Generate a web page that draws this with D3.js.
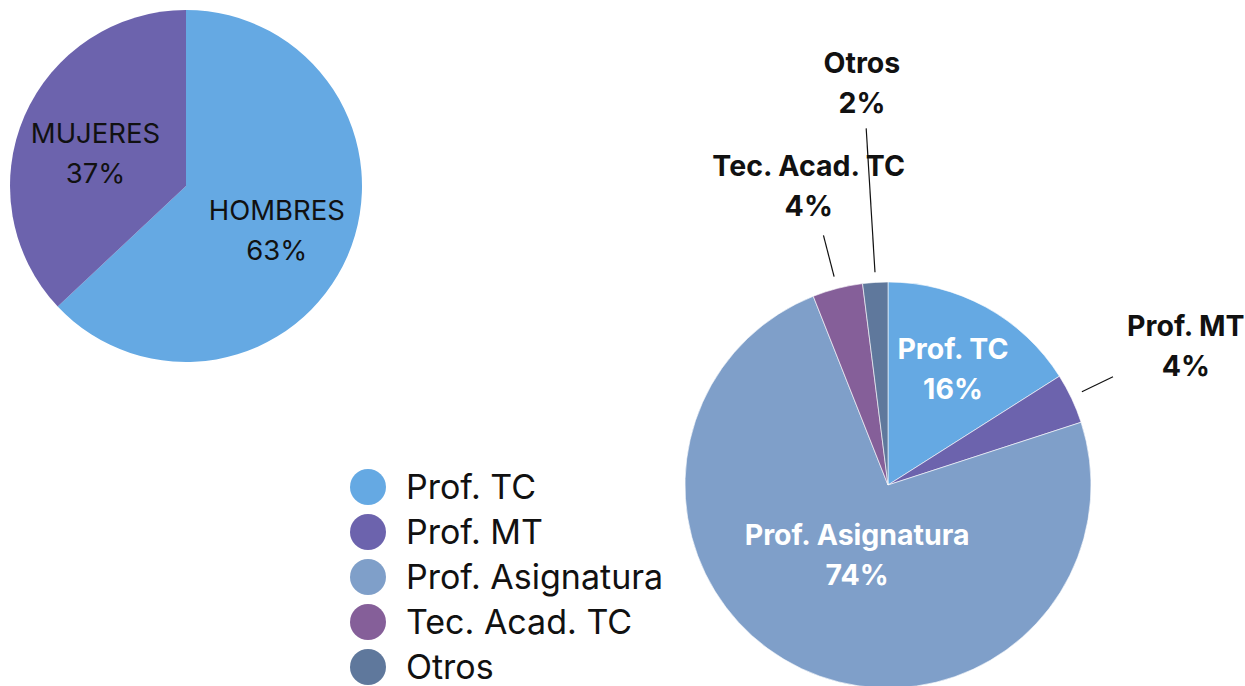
<!DOCTYPE html>
<meta charset="utf-8">
<head>
	<title>Pies</title>
</head>
<style>
	body { margin: 0; background: #fff; }
	text { font-family: Inter, "Noto Sans", sans-serif; }
</style>
<body>
	<svg width="1245" height="686"></svg>

	<script src="https://d3js.org/d3.v7.min.js"></script>
	<script>
// sexo
var genderCats = ['HOMBRES', 'MUJERES'];
var genderVals = [63, 37];
var genderColors = ['#65a9e3', '#6c63ad'];

// tipo de personal
var staffCats = ['Prof. TC', 'Prof. MT', 'Prof. Asignatura', 'Tec. Acad. TC', 'Otros'];
var staffVals = [16, 4, 74, 4, 2];
var staffColors = ['#65a9e3', '#6c63ad', '#7f9fc9', '#855f99', '#5f789c'];

var svg = d3.select('svg');
var pie = d3.pie().sort(null);
var deg = Math.PI / 180;

// left pie
var r1 = 176;
var g1 = svg.append('g').attr('transform', 'translate(186,186)');
var arc1 = d3.arc().innerRadius(0).outerRadius(r1);
var arcs1 = pie(genderVals);

g1.selectAll('path')
	.data(arcs1)
	.enter().append('path')
	.attr('d', arc1)
	.attr('fill', function(d, i) {return genderColors[i];});

// label spots: [angle in degrees, fraction of radius]
var genderSpots = [[120.7, 0.6], [284, 0.53]];
g1.selectAll('text.lbl')
	.data(arcs1)
	.enter().append('text')
	.attr('class', 'lbl')
	.attr('text-anchor', 'middle')
	.attr('font-size', 27.5)
	.attr('fill', '#111')
	.attr('transform', function(d, i) {
		var p = d3.pointRadial(genderSpots[i][0] * deg, genderSpots[i][1] * r1);
		return 'translate(' + p[0] + ',' + p[1] + ')';
	})
	.each(function(d, i) {
		var t = d3.select(this);
		t.append('tspan').attr('x', 0).attr('y', -20).text(genderCats[i]);
		t.append('tspan').attr('x', 0).attr('y', 20).text(genderVals[i] + '%');
	});

// right pie
var r2 = 203;
var g2 = svg.append('g').attr('transform', 'translate(888,485)');
var arc2 = d3.arc().innerRadius(0).outerRadius(r2);
var arcs2 = pie(staffVals);

g2.selectAll('path')
	.data(arcs2)
	.enter().append('path')
	.attr('d', arc2)
	.attr('fill', function(d, i) {return staffColors[i];})
	.attr('stroke', '#fff')
	.attr('stroke-width', 0.6);

var staffSpots = [[29.5, 0.65], [66.5, 1.6], [203.6, 0.38], [-15.3, 1.48], [-3.8, 1.94]];
var staffInside = [true, false, true, false, false];
var leaders = [null, [64.3, 1.06, 1.23], null, [-14.5, 1.06, 1.27], [-3.5, 1.05, 1.76]];

g2.selectAll('line.leader')
	.data(leaders.filter(function(l) {return l;}))
	.enter().append('line')
	.attr('class', 'leader')
	.attr('stroke', '#111')
	.attr('stroke-width', 1.2)
	.attr('x1', function(l) {return d3.pointRadial(l[0] * deg, l[1] * r2)[0];})
	.attr('y1', function(l) {return d3.pointRadial(l[0] * deg, l[1] * r2)[1];})
	.attr('x2', function(l) {return d3.pointRadial(l[0] * deg, l[2] * r2)[0];})
	.attr('y2', function(l) {return d3.pointRadial(l[0] * deg, l[2] * r2)[1];});

g2.selectAll('text.lbl')
	.data(arcs2)
	.enter().append('text')
	.attr('class', 'lbl')
	.attr('text-anchor', 'middle')
	.attr('font-size', 28.5)
	.attr('font-weight', 700)
	.attr('fill', function(d, i) {return staffInside[i] ? '#fff' : '#111';})
	.attr('transform', function(d, i) {
		var p = d3.pointRadial(staffSpots[i][0] * deg, staffSpots[i][1] * r2);
		return 'translate(' + p[0] + ',' + p[1] + ')';
	})
	.each(function(d, i) {
		var t = d3.select(this);
		var top = staffInside[i] ? -11 : -19;
		t.append('tspan').attr('x', 0).attr('y', top).text(staffCats[i]);
		t.append('tspan').attr('x', 0).attr('y', top + 40).text(staffVals[i] + '%');
	});

// legend
var legend = svg.append('g').attr('transform', 'translate(368,487)');
var rows = legend.selectAll('g')
	.data(staffCats)
	.enter().append('g')
	.attr('transform', function(d, i) {return 'translate(0,' + (i * 45) + ')';});

rows.append('circle')
	.attr('r', 18)
	.attr('fill', function(d, i) {return staffColors[i];});

rows.append('text')
	.attr('x', 38)
	.attr('y', 12)
	.attr('font-size', 34)
	.attr('fill', '#111')
	.text(function(d) {return d;});
	</script>
</body>
</html>
